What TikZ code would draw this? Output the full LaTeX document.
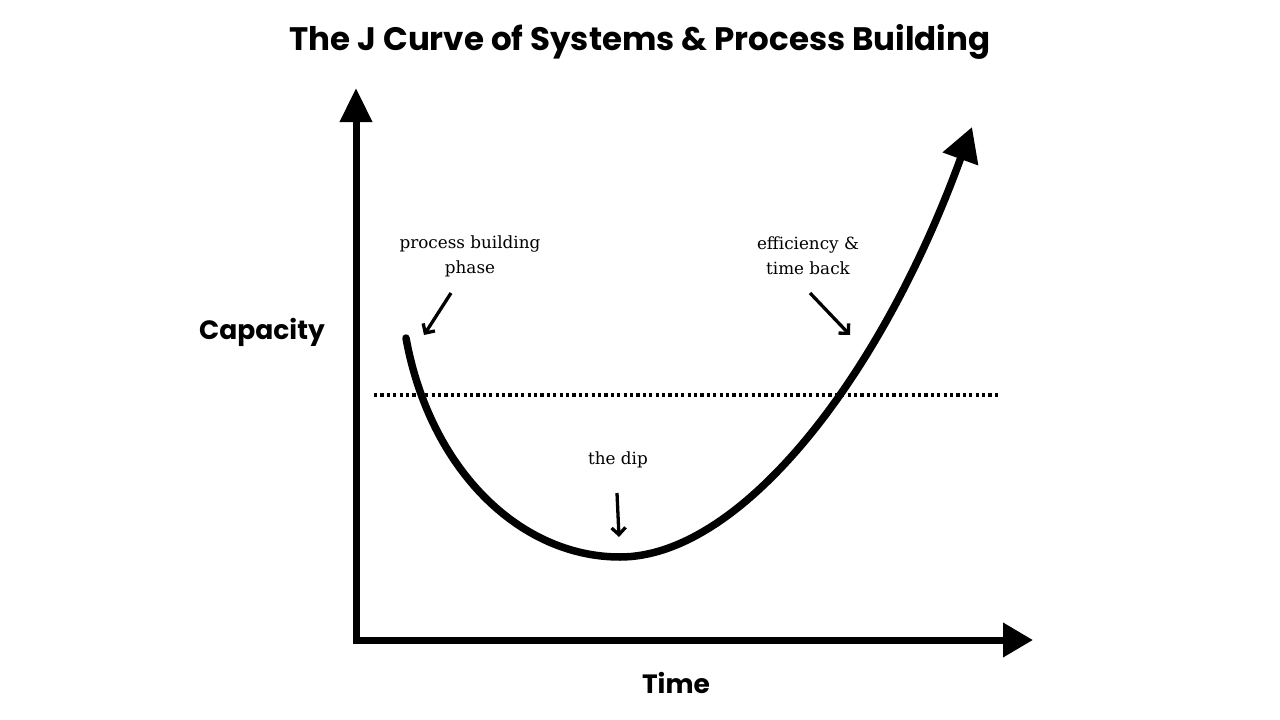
\documentclass[tikz,border=0pt]{standalone}
\usepackage{fontspec}
\setmainfont{DejaVu Serif}
\newfontfamily\poppins{Poppins}
\usepackage{tikz}
\usetikzlibrary{arrows.meta, positioning, calc}

\begin{document}
\begin{tikzpicture}[
  x=1pt, y=-1pt,
  axis/.style={line width=7pt, black, {Triangle[length=34pt, width=31pt]}-{Triangle[length=30pt, width=33pt]}},
  jcurve/.style={line width=7.5pt, black, line cap=round, -{Triangle[length=34pt, width=36pt]}},
  refline/.style={line width=3.2pt, black, dash pattern=on 3.2pt off 3.2pt},
  note/.style={font=\fontsize{16.8}{25}\selectfont, align=center},
  pointer/.style={-{Straight Barb[length=7pt, width=14pt]}, line width=3.3pt, black},
  heading/.style={font=\poppins\bfseries\fontsize{32.5}{38}\selectfont},
  axlabel/.style={font=\poppins\bfseries\fontsize{26.5}{30}\selectfont}
]
\useasboundingbox (0,0) rectangle (1280,720);
%% Title and axis labels
\node[heading] (title) at (640,42) {The J Curve of Systems \& Process Building};
\node[axlabel] (cap) at (262,332) {Capacity};
\node[axlabel] (time) at (676,683) {Time};
%% Axes
\coordinate (origin) at (356,640);
\coordinate (ytip) at (356,88);
\coordinate (xtip) at (1033,640);
\draw[axis] (ytip) -- (origin) -- (xtip);
%% Break-even line
\coordinate (lvlA) at (374,395);
\coordinate (lvlB) at (998,395);
\draw[refline] (lvlA) -- (lvlB);
%% The J curve
\coordinate (start) at (406,338);
\coordinate (dip) at (620,557);
\coordinate (top) at (972,127);
\draw[jcurve] (start) .. controls (430,470) and (520,557) .. (dip)
  .. controls (740,557) and (880,380) .. (top);
%% Annotations
\node[note] (build) at (470,256) {process building\\phase};
\node[note] (gain) at (808,256) {efficiency \&\\time back};
\node[note] (low) at (618,460) {the dip};
\coordinate (b1) at (451,293); \coordinate (b2) at (424,335);
\coordinate (g1) at (810,293); \coordinate (g2) at (850,335);
\coordinate (d1) at (617,493); \coordinate (d2) at (619,537);
\draw[pointer] (b1) -- (b2);
\draw[pointer] (g1) -- (g2);
\draw[pointer] (d1) -- (d2);
\end{tikzpicture}
\end{document}
